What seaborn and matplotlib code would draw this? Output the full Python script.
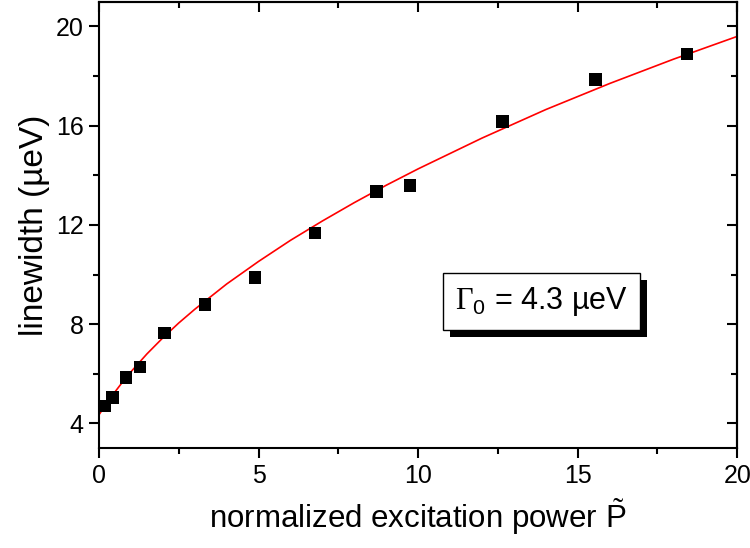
import numpy as np
import pandas as pd
import seaborn as sns
import matplotlib.pyplot as plt
import matplotlib.ticker as mticker
import matplotlib.patheffects as pe

# measured linewidths vs normalized power
power = [0.19, 0.42, 0.84, 1.29, 2.05, 3.32, 4.89, 6.77, 8.70, 9.75, 12.64, 15.56, 18.42]
linewidth = [4.70, 5.05, 5.85, 6.28, 7.64, 8.80, 9.89, 11.68, 13.34, 13.59, 16.17, 17.86, 18.89]

# fitted curve
fit_power = [0, 0.25, 0.5, 0.75, 1, 1.5, 2, 2.5, 3, 4, 5, 6, 7, 8, 9, 10, 12, 14, 16, 18, 20]
fit_width = [4.35, 4.83, 5.27, 5.69, 6.08, 6.80, 7.45, 8.05, 8.60, 9.62, 10.53, 11.38,
             12.16, 12.90, 13.60, 14.26, 15.50, 16.65, 17.70, 18.68, 19.6]

box_text = r'$\Gamma_{\mathsf{0}}$ = 4.3 µeV'

sns.set_style('ticks')
plt.rcParams['font.family'] = ['Liberation Sans', 'DejaVu Sans']
plt.rcParams['mathtext.fontset'] = 'custom'
plt.rcParams['mathtext.rm'] = 'Liberation Serif'
plt.rcParams['mathtext.sf'] = 'Liberation Sans'
plt.rcParams['axes.linewidth'] = 1.5
plt.rcParams['axes.edgecolor'] = 'black'
plt.rcParams['axes.labelcolor'] = 'black'
plt.rcParams['text.color'] = 'black'
plt.rcParams['xtick.color'] = 'black'
plt.rcParams['ytick.color'] = 'black'

pts = pd.DataFrame({'P': power, 'w': linewidth})
fit = pd.DataFrame({'P': fit_power, 'w': fit_width})

fig = plt.figure(figsize=(7.5, 5.48), dpi=100)
ax = fig.add_axes([0.132, 0.182, 0.851, 0.815])

sns.lineplot(data=fit, x='P', y='w', ax=ax, color='red', lw=1.2, zorder=2)
sns.scatterplot(data=pts, x='P', y='w', ax=ax, marker='s', s=80, color='black',
                edgecolor='none', zorder=3)

ax.set_xlim(0, 20)
ax.set_ylim(3, 21)
ax.xaxis.set_major_locator(mticker.MultipleLocator(5))
ax.xaxis.set_minor_locator(mticker.MultipleLocator(2.5))
ax.yaxis.set_major_locator(mticker.MultipleLocator(4))
ax.yaxis.set_minor_locator(mticker.MultipleLocator(2))
ax.yaxis.set_major_formatter(mticker.FormatStrFormatter('%d'))
ax.tick_params(which='major', direction='out', length=7, width=1.5, labelsize=18, pad=4)
ax.tick_params(which='minor', direction='out', length=4, width=1.5)

# inward ticks on top and right
topx = ax.secondary_xaxis('top')
topx.set_xticks([0, 5, 10, 15, 20])
topx.xaxis.set_minor_locator(mticker.MultipleLocator(2.5))
topx.tick_params(which='major', direction='in', length=7, width=1.5, labeltop=False)
topx.tick_params(which='minor', direction='in', length=4, width=1.5)

righty = ax.secondary_yaxis('right')
righty.set_yticks([4, 8, 12, 16, 20])
righty.yaxis.set_minor_locator(mticker.MultipleLocator(2))
righty.tick_params(which='major', direction='in', length=7, width=1.5, labelright=False)
righty.tick_params(which='minor', direction='in', length=4, width=1.5)

ax.set_xlabel(r'normalized excitation power $\tilde{\mathsf{P}}$', fontsize=22.5, labelpad=6)
ax.set_ylabel('linewidth (µeV)', fontsize=24, labelpad=4)

t = ax.text(13.87, 8.92, box_text, fontsize=22, ha='center', va='center', zorder=5,
            bbox=dict(boxstyle='square,pad=0.4', fc='white', ec='black', lw=1))
t.get_bbox_patch().set_path_effects([
    pe.SimplePatchShadow(offset=(5, -5), shadow_rgbFace='black', alpha=1),
    pe.Normal()])

fig.savefig('out.png', dpi=100)
